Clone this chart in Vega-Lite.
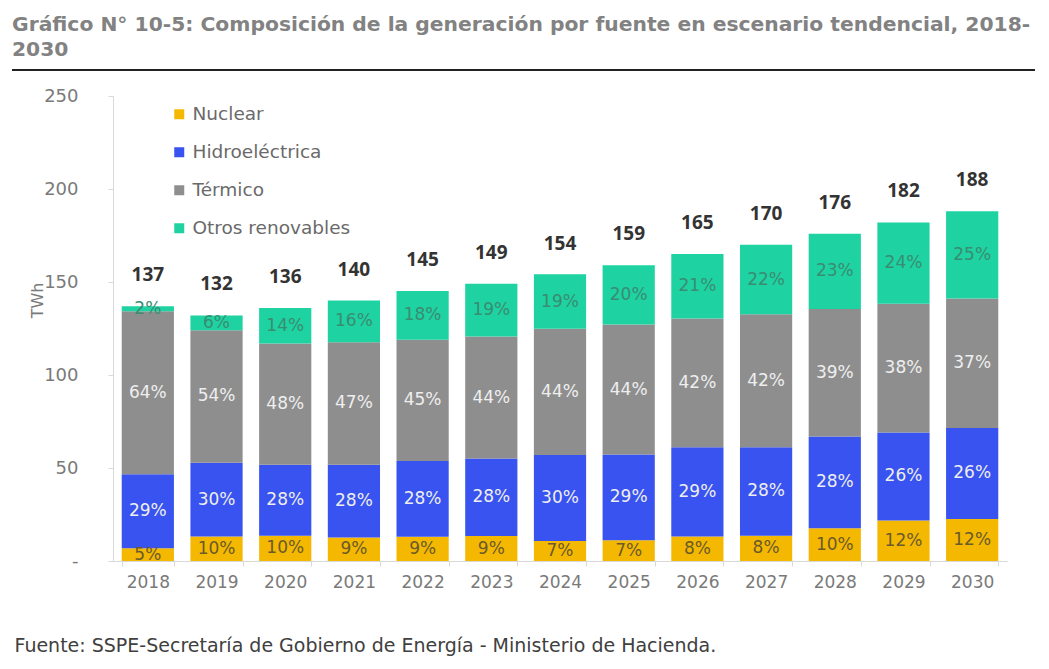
{
  "$schema": "https://vega.github.io/schema/vega-lite/v6.json",
  "autosize": {"type": "none"},
  "width": 1023,
  "height": 465,
  "padding": {"left": 12, "top": 96, "right": 14, "bottom": 108},
  "background": "white",
  "title": {
    "text": ["Gráfico N° 10-5: Composición de la generación por fuente en escenario tendencial, 2018-", "2030"],
    "anchor": "start",
    "frame": "group",
    "offset": 9,
    "font": "DejaVu Sans",
    "fontSize": 20.3,
    "fontWeight": "bold",
    "color": "#828282",
    "lineHeight": 25
  },
  "config": {
    "view": {"stroke": null},
    "font": "DejaVu Sans"
  },
  "datasets": {
    "gen": [
      {"anio": "2018", "fuente": "Nuclear", "orden": 1, "valor": 6.9, "pct": "5%"},
      {"anio": "2018", "fuente": "Hidroeléctrica", "orden": 2, "valor": 39.7, "pct": "29%"},
      {"anio": "2018", "fuente": "Térmico", "orden": 3, "valor": 87.7, "pct": "64%"},
      {"anio": "2018", "fuente": "Otros renovables", "orden": 4, "valor": 2.7, "pct": "2%"},
      {"anio": "2019", "fuente": "Nuclear", "orden": 1, "valor": 13.2, "pct": "10%"},
      {"anio": "2019", "fuente": "Hidroeléctrica", "orden": 2, "valor": 39.6, "pct": "30%"},
      {"anio": "2019", "fuente": "Térmico", "orden": 3, "valor": 71.3, "pct": "54%"},
      {"anio": "2019", "fuente": "Otros renovables", "orden": 4, "valor": 7.9, "pct": "6%"},
      {"anio": "2020", "fuente": "Nuclear", "orden": 1, "valor": 13.6, "pct": "10%"},
      {"anio": "2020", "fuente": "Hidroeléctrica", "orden": 2, "valor": 38.1, "pct": "28%"},
      {"anio": "2020", "fuente": "Térmico", "orden": 3, "valor": 65.3, "pct": "48%"},
      {"anio": "2020", "fuente": "Otros renovables", "orden": 4, "valor": 19.0, "pct": "14%"},
      {"anio": "2021", "fuente": "Nuclear", "orden": 1, "valor": 12.6, "pct": "9%"},
      {"anio": "2021", "fuente": "Hidroeléctrica", "orden": 2, "valor": 39.2, "pct": "28%"},
      {"anio": "2021", "fuente": "Térmico", "orden": 3, "valor": 65.8, "pct": "47%"},
      {"anio": "2021", "fuente": "Otros renovables", "orden": 4, "valor": 22.4, "pct": "16%"},
      {"anio": "2022", "fuente": "Nuclear", "orden": 1, "valor": 13.1, "pct": "9%"},
      {"anio": "2022", "fuente": "Hidroeléctrica", "orden": 2, "valor": 40.6, "pct": "28%"},
      {"anio": "2022", "fuente": "Térmico", "orden": 3, "valor": 65.3, "pct": "45%"},
      {"anio": "2022", "fuente": "Otros renovables", "orden": 4, "valor": 26.1, "pct": "18%"},
      {"anio": "2023", "fuente": "Nuclear", "orden": 1, "valor": 13.4, "pct": "9%"},
      {"anio": "2023", "fuente": "Hidroeléctrica", "orden": 2, "valor": 41.7, "pct": "28%"},
      {"anio": "2023", "fuente": "Térmico", "orden": 3, "valor": 65.6, "pct": "44%"},
      {"anio": "2023", "fuente": "Otros renovables", "orden": 4, "valor": 28.3, "pct": "19%"},
      {"anio": "2024", "fuente": "Nuclear", "orden": 1, "valor": 10.8, "pct": "7%"},
      {"anio": "2024", "fuente": "Hidroeléctrica", "orden": 2, "valor": 46.2, "pct": "30%"},
      {"anio": "2024", "fuente": "Térmico", "orden": 3, "valor": 67.8, "pct": "44%"},
      {"anio": "2024", "fuente": "Otros renovables", "orden": 4, "valor": 29.3, "pct": "19%"},
      {"anio": "2025", "fuente": "Nuclear", "orden": 1, "valor": 11.1, "pct": "7%"},
      {"anio": "2025", "fuente": "Hidroeléctrica", "orden": 2, "valor": 46.1, "pct": "29%"},
      {"anio": "2025", "fuente": "Térmico", "orden": 3, "valor": 70.0, "pct": "44%"},
      {"anio": "2025", "fuente": "Otros renovables", "orden": 4, "valor": 31.8, "pct": "20%"},
      {"anio": "2026", "fuente": "Nuclear", "orden": 1, "valor": 13.2, "pct": "8%"},
      {"anio": "2026", "fuente": "Hidroeléctrica", "orden": 2, "valor": 47.9, "pct": "29%"},
      {"anio": "2026", "fuente": "Térmico", "orden": 3, "valor": 69.3, "pct": "42%"},
      {"anio": "2026", "fuente": "Otros renovables", "orden": 4, "valor": 34.7, "pct": "21%"},
      {"anio": "2027", "fuente": "Nuclear", "orden": 1, "valor": 13.6, "pct": "8%"},
      {"anio": "2027", "fuente": "Hidroeléctrica", "orden": 2, "valor": 47.6, "pct": "28%"},
      {"anio": "2027", "fuente": "Térmico", "orden": 3, "valor": 71.4, "pct": "42%"},
      {"anio": "2027", "fuente": "Otros renovables", "orden": 4, "valor": 37.4, "pct": "22%"},
      {"anio": "2028", "fuente": "Nuclear", "orden": 1, "valor": 17.6, "pct": "10%"},
      {"anio": "2028", "fuente": "Hidroeléctrica", "orden": 2, "valor": 49.3, "pct": "28%"},
      {"anio": "2028", "fuente": "Térmico", "orden": 3, "valor": 68.6, "pct": "39%"},
      {"anio": "2028", "fuente": "Otros renovables", "orden": 4, "valor": 40.5, "pct": "23%"},
      {"anio": "2029", "fuente": "Nuclear", "orden": 1, "valor": 21.8, "pct": "12%"},
      {"anio": "2029", "fuente": "Hidroeléctrica", "orden": 2, "valor": 47.3, "pct": "26%"},
      {"anio": "2029", "fuente": "Térmico", "orden": 3, "valor": 69.2, "pct": "38%"},
      {"anio": "2029", "fuente": "Otros renovables", "orden": 4, "valor": 43.7, "pct": "24%"},
      {"anio": "2030", "fuente": "Nuclear", "orden": 1, "valor": 22.6, "pct": "12%"},
      {"anio": "2030", "fuente": "Hidroeléctrica", "orden": 2, "valor": 48.9, "pct": "26%"},
      {"anio": "2030", "fuente": "Térmico", "orden": 3, "valor": 69.6, "pct": "37%"},
      {"anio": "2030", "fuente": "Otros renovables", "orden": 4, "valor": 47.0, "pct": "25%"}
    ],
    "totales": [
      {"anio": "2018", "total": 137},
      {"anio": "2019", "total": 132},
      {"anio": "2020", "total": 136},
      {"anio": "2021", "total": 140},
      {"anio": "2022", "total": 145},
      {"anio": "2023", "total": 149},
      {"anio": "2024", "total": 154},
      {"anio": "2025", "total": 159},
      {"anio": "2026", "total": 165},
      {"anio": "2027", "total": 170},
      {"anio": "2028", "total": 176},
      {"anio": "2029", "total": 182},
      {"anio": "2030", "total": 188}
    ]
  },
  "layer": [
    {
      "data": {"name": "gen"},
      "mark": {"type": "bar"},
      "encoding": {
        "x": {
          "field": "anio",
          "type": "ordinal",
          "scale": {"type": "band", "range": [101, 995], "paddingInner": 0.24, "paddingOuter": 0.127},
          "axis": {
            "title": "Fuente: SSPE-Secretaría de Gobierno de Energía - Ministerio de Hacienda.",
            "titleAnchor": "start",
            "titleAlign": "left",
            "titleX": 2,
            "titleY": 84,
            "titleBaseline": "middle",
            "titleFont": "DejaVu Sans",
            "titleFontSize": 19,
            "titleFontWeight": "normal",
            "titleColor": "#404040",
            "labelAngle": 0,
            "labelFont": "DejaVu Sans",
            "labelFontSize": 17,
            "labelColor": "#7a7a7a",
            "labelPadding": 8,
            "domain": true,
            "domainColor": "#d9d9d9",
            "ticks": true,
            "tickBand": "extent",
            "tickColor": "#d9d9d9",
            "tickSize": 5,
            "grid": false
          }
        },
        "y": {
          "field": "valor",
          "type": "quantitative",
          "stack": "zero",
          "scale": {"domain": [0, 250], "nice": false},
          "axis": {
            "values": [0, 50, 100, 150, 200, 250],
            "labelExpr": "datum.value === 0 ? '-\u00a0\u00a0' : datum.label",
            "offset": -101,
            "title": "TWh",
            "titleX": -76,
            "titleY": 204,
            "titleAngle": -90,
            "titleBaseline": "middle",
            "titleFont": "DejaVu Sans",
            "titleFontSize": 16,
            "titleFontWeight": "normal",
            "titleColor": "#7a7a7a",
            "labelFont": "DejaVu Sans",
            "labelFontSize": 18,
            "labelColor": "#7a7a7a",
            "labelPadding": 30,
            "domainColor": "#d9d9d9",
            "tickColor": "#d9d9d9",
            "tickSize": 5,
            "grid": false
          }
        },
        "color": {
          "field": "fuente",
          "type": "nominal",
          "scale": {
            "domain": ["Nuclear", "Hidroeléctrica", "Térmico", "Otros renovables"],
            "range": ["#F5B800", "#3853F0", "#8E8E8E", "#1ED3A1"]
          },
          "legend": {
            "title": null,
            "orient": "none",
            "legendX": 158,
            "legendY": 9,
            "padding": 0,
            "symbolType": "square",
            "symbolSize": 100,
            "symbolStrokeWidth": 0,
            "labelFont": "DejaVu Sans",
            "labelFontSize": 18.5,
            "labelColor": "#6a6a6a",
            "labelOffset": 4,
            "rowPadding": 19
          }
        },
        "order": {"field": "orden", "type": "quantitative"}
      }
    },
    {
      "data": {"name": "gen"},
      "mark": {"type": "text", "font": "DejaVu Sans", "fontSize": 17, "baseline": "middle"},
      "encoding": {
        "x": {"field": "anio", "type": "ordinal"},
        "y": {"field": "valor", "type": "quantitative", "stack": "zero", "bandPosition": 0.5},
        "detail": {"field": "fuente"},
        "order": {"field": "orden", "type": "quantitative"},
        "text": {"field": "pct"},
        "color": {
          "condition": [
            {"test": "datum.fuente === 'Nuclear'", "value": "#6a5a2c"},
            {"test": "datum.fuente === 'Otros renovables'", "value": "#3a8c72"}
          ],
          "value": "#eeeeee"
        }
      }
    },
    {
      "data": {"name": "totales"},
      "mark": {"type": "text", "font": "Open Sans", "fontSize": 19, "fontWeight": "bold", "color": "#333333", "baseline": "middle", "dy": -31},
      "encoding": {
        "x": {"field": "anio", "type": "ordinal"},
        "y": {"field": "total", "type": "quantitative"},
        "text": {"field": "total"}
      }
    },
    {
      "data": {"values": [{}]},
      "mark": {"type": "rule", "color": "#222222", "strokeWidth": 2},
      "encoding": {
        "y": {"datum": 264, "type": "quantitative"}
      }
    }
  ]
}
